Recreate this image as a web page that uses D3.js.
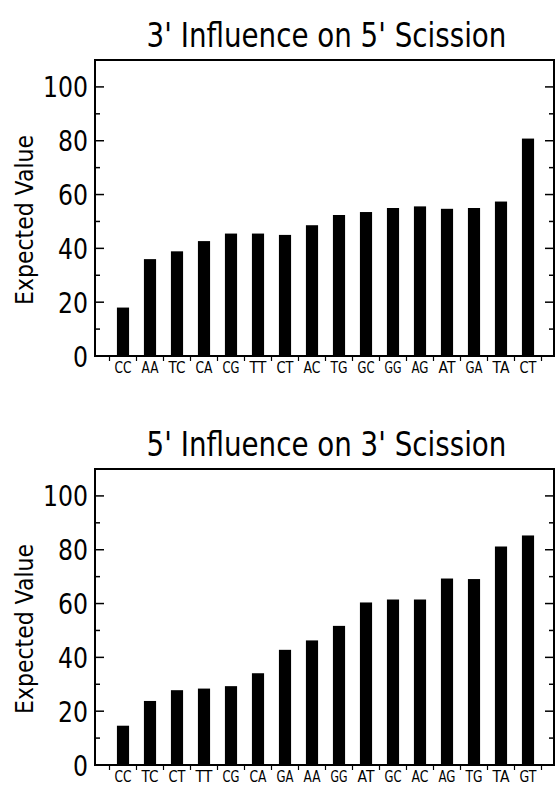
<!DOCTYPE html>
<html lang="en">
<head>
    <meta charset="UTF-8">
    <title>Scission Expected Values</title>
    <script src="https://d3js.org/d3.v7.min.js"></script>
    <style>
        body, html {
            margin: 0;
            padding: 0;
            background: #fff;
        }
        text {
            font-family: "Liberation Sans Narrow", "DejaVu Sans", sans-serif;
            fill: #000;
        }
    </style>
</head>
<body>
    <script>
        // Top panel: 3' influence on 5' scission
        const topTitle = "3' Influence on 5' Scission";
        const topCats = ["CC", "AA", "TC", "CA", "CG", "TT", "CT", "AC", "TG", "GC", "GG", "AG", "AT", "GA", "TA", "CT"];
        const topValues = [18, 36, 38.9, 42.7, 45.5, 45.5, 45, 48.6, 52.4, 53.5, 55, 55.6, 54.7, 55, 57.4, 80.8];

        // Bottom panel: 5' influence on 3' scission
        const botTitle = "5' Influence on 3' Scission";
        const botCats = ["CC", "TC", "CT", "TT", "CG", "CA", "GA", "AA", "GG", "AT", "GC", "AC", "AG", "TG", "TA", "GT"];
        const botValues = [14.6, 23.8, 27.8, 28.4, 29.3, 34.1, 42.8, 46.3, 51.7, 60.4, 61.5, 61.5, 69.3, 69.1, 81.2, 85.3];

        const yTickLabels = [0, 20, 40, 60, 80, 100];
        const yLabel = "Expected Value";

        const width = 556;
        const height = 787;

        const svg = d3.select("body")
            .append("svg")
            .attr("width", width)
            .attr("height", height);

        // frame edges shared by both panels
        const left = 95, right = 554;
        const yMax = 110;

        // squeeze a text horizontally to a target width (the original font is condensed)
        function placeText(g, str, size, x, y, targetW, anchor, rotate) {
            const t = g.append("text")
                .attr("font-size", size)
                .attr("text-anchor", anchor)
                .text(str);
            const sx = targetW / t.node().getComputedTextLength();
            t.attr("transform", `translate(${x},${y})` + (rotate ? " rotate(-90)" : "") + ` scale(${sx},1)`);
            return t;
        }

        function drawPanel(title, cats, values, top, bottom) {
            const g = svg.append("g");

            // index-based band so duplicate labels (CT) stay separate
            const x = d3.scaleBand()
                .domain(d3.range(cats.length))
                .range([109.5, 541.5])
                .paddingInner(0.55)
                .paddingOuter(0.275);

            const y = d3.scaleLinear()
                .domain([0, yMax])
                .range([bottom, top]);

            // bars
            g.selectAll("rect.bar")
                .data(values)
                .enter()
                .append("rect")
                .attr("class", "bar")
                .attr("x", (d, i) => x(i))
                .attr("width", x.bandwidth())
                .attr("y", d => y(d))
                .attr("height", d => y(0) - y(d))
                .attr("fill", "#000");

            // frame
            g.append("rect")
                .attr("x", left)
                .attr("y", top)
                .attr("width", right - left)
                .attr("height", bottom - top)
                .attr("fill", "none")
                .attr("stroke", "#000")
                .attr("stroke-width", 2);

            // inward ticks on left and right, majors every 20, minors every 10
            const tickVals = d3.range(10, yMax, 10);
            tickVals.forEach(v => {
                const len = v % 20 === 0 ? 9 : 5;
                g.append("line")
                    .attr("x1", left).attr("x2", left + len)
                    .attr("y1", y(v)).attr("y2", y(v))
                    .attr("stroke", "#000").attr("stroke-width", 1.5);
                g.append("line")
                    .attr("x1", right - len).attr("x2", right)
                    .attr("y1", y(v)).attr("y2", y(v))
                    .attr("stroke", "#000").attr("stroke-width", 1.5);
            });

            // y tick labels
            yTickLabels.forEach(d => {
                placeText(g, String(d), 29, 88, y(d) + 10.5, String(d).length * 15, "end", false);
            });

            // x ticks at cell boundaries, pointing down
            const step = x.step();
            const x0 = x.range()[0];
            d3.range(cats.length + 1).forEach(k => {
                g.append("line")
                    .attr("x1", x0 + k * step).attr("x2", x0 + k * step)
                    .attr("y1", bottom).attr("y2", bottom + 5)
                    .attr("stroke", "#000").attr("stroke-width", 1.2);
            });

            // x labels
            cats.forEach((d, i) => {
                placeText(g, d, 15, x(i) + x.bandwidth() / 2, bottom + 17, 17, "middle", false);
            });

            // title
            placeText(g, title, 33, (left + right) / 2 + 2, top - 13, 360, "middle", false);

            // y axis label
            placeText(g, yLabel, 25, 33, (top + bottom) / 2 + 12, 170, "middle", true);
        }

        drawPanel(topTitle, topCats, topValues, 60, 356);
        drawPanel(botTitle, botCats, botValues, 469, 765);
    </script>
</body>
</html>
